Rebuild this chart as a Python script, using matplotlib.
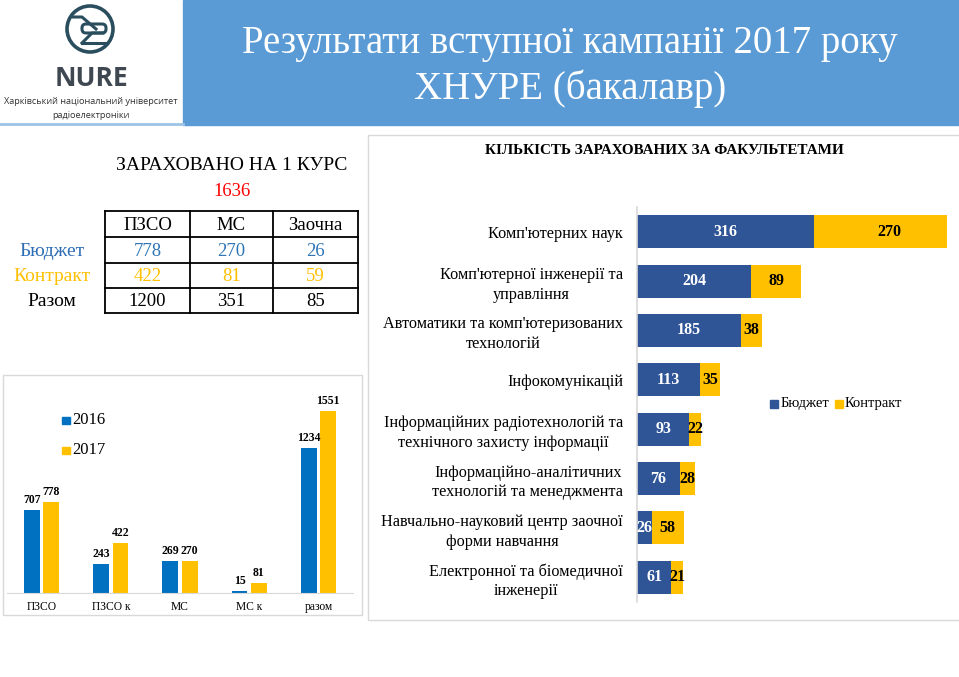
import matplotlib.pyplot as plt
from matplotlib.patches import Rectangle, Circle, FancyBboxPatch

# --- data ---
title_lines = ["Результати вступної кампанії 2017 року", "ХНУРЕ (бакалавр)"]

total_enrolled = 1636
table_cols = ["ПЗСО", "МС", "Заочна"]
table_rows = ["Бюджет", "Контракт", "Разом"]
budget_tbl = [778, 270, 26]
contract_tbl = [422, 81, 59]
total_tbl = [1200, 351, 85]

years_cats = ["ПЗСО", "ПЗСО к", "МС", "МС к", "разом"]
y2016 = [707, 243, 269, 15, 1234]
y2017 = [778, 422, 270, 81, 1551]

faculties = [
    "Комп'ютерних наук",
    "Комп'ютерної інженерії та\nуправління",
    "Автоматики та комп'ютеризованих\nтехнологій",
    "Інфокомунікацій",
    "Інформаційних радіотехнологій та\nтехнічного захисту інформації",
    "Інформаційно-аналітичних\nтехнологій та менеджмента",
    "Навчально-науковий центр заочної\nформи навчання",
    "Електронної та біомедичної\nінженерії",
]
fac_budget = [316, 204, 185, 113, 93, 76, 26, 61]
fac_contract = [270, 89, 38, 35, 22, 28, 58, 21]

SERIF = "Liberation Serif"
C_BLUE = "#0070C0"
C_DBLUE = "#2F5597"
C_YEL = "#FFC000"
C_GRID = "#D9D9D9"

W, H = 959, 677
fig = plt.figure(figsize=(W / 100, H / 100), dpi=100)
bg = fig.add_axes([0, 0, 1, 1])
bg.set_xlim(0, W)
bg.set_ylim(H, 0)
bg.axis("off")


def axes_px(l, t, r, b):
    return fig.add_axes([l / W, 1 - b / H, (r - l) / W, (b - t) / H])


# header
bg.add_patch(Rectangle((183, 0), W - 183, 125, color="#5B9BD5"))
bg.plot([0, 183], [123.5, 123.5], color="#9DC3E6", lw=2)
bg.text(570, 44, title_lines[0], ha="center", va="center", color="white",
        fontsize=28, family=SERIF)
bg.text(570, 89, title_lines[1], ha="center", va="center", color="white",
        fontsize=28, family=SERIF)

# logo
logo_c = "#2B4E5E"
bg.add_patch(Circle((90, 29), 23, fill=False, ec=logo_c, lw=2.6))
bg.add_patch(FancyBboxPatch((82, 24), 24, 9, boxstyle="round,pad=0,rounding_size=4",
                            fill=False, ec=logo_c, lw=2.2))
bg.plot([73, 82, 96], [17, 17, 29], color=logo_c, lw=2.2)
bg.plot([82, 92, 103], [43, 33, 33], color=logo_c, lw=2.2)
bg.plot([82, 105], [43, 43], color=logo_c, lw=2.2)
bg.text(91, 78, "NURE", ha="center", va="center", fontsize=19, fontweight="bold",
        color="#3F4750", family="Open Sans")
bg.text(91, 102, "Харківський національний університет", ha="center", va="center",
        fontsize=6.6, color="#333333", family="Open Sans")
bg.text(91, 115, "радіоелектроніки", ha="center", va="center",
        fontsize=6.6, color="#333333", family="Open Sans")

# table block
bg.text(232, 165, "ЗАРАХОВАНО НА 1 КУРС", ha="center", va="center",
        fontsize=14, family=SERIF)
bg.text(232, 191, str(total_enrolled), ha="center", va="center",
        fontsize=13.5, family=SERIF, color="red")
col_x = [105, 190, 273, 358]
row_y = [211, 237, 263, 288, 313]
for x in col_x:
    bg.plot([x, x], [row_y[0], row_y[-1]], color="black", lw=1.3)
for y in row_y:
    bg.plot([col_x[0], col_x[-1]], [y, y], color="black", lw=1.3)
row_colors = ["#2E6DB5", C_YEL, "black"]
num_colors = ["#2E75B6", C_YEL, "black"]
for j, name in enumerate(table_cols):
    bg.text((col_x[j] + col_x[j + 1]) / 2, (row_y[0] + row_y[1]) / 2 + 1, name,
            ha="center", va="center", fontsize=13.5, family=SERIF)
for i, (name, vals) in enumerate(zip(table_rows, [budget_tbl, contract_tbl, total_tbl])):
    yc = (row_y[i + 1] + row_y[i + 2]) / 2 + 1
    bg.text(52, yc, name, ha="center", va="center", fontsize=14, family=SERIF,
            color=row_colors[i])
    for j, v in enumerate(vals):
        bg.text((col_x[j] + col_x[j + 1]) / 2, yc, str(v), ha="center", va="center",
                fontsize=13.5, family=SERIF, color=num_colors[i])

# left chart
bg.add_patch(Rectangle((3, 375), 359, 240, fill=False, ec=C_GRID, lw=1))
ax1 = axes_px(7, 385, 353, 593)
ax1.patch.set_alpha(0)
xs = range(len(years_cats))
w = 0.23
b1 = ax1.bar([x - 0.14 for x in xs], y2016, width=w, color=C_BLUE)
b2 = ax1.bar([x + 0.14 for x in xs], y2017, width=w, color=C_YEL)
for bars, vals in [(b1, y2016), (b2, y2017)]:
    for r, v in zip(bars, vals):
        ax1.annotate(str(v), (r.get_x() + r.get_width() / 2, v), xytext=(0, 3),
                     textcoords="offset points", ha="center", va="bottom",
                     fontsize=8.5, fontweight="bold", family=SERIF)
ax1.set_xlim(-0.5, len(years_cats) - 0.5)
ax1.set_ylim(0, 1772)
ax1.set_xticks(list(xs))
ax1.set_xticklabels(years_cats, family=SERIF, fontsize=8.3)
ax1.tick_params(axis="x", length=0, pad=6)
ax1.set_yticks([])
for s in ["top", "left", "right"]:
    ax1.spines[s].set_visible(False)
ax1.spines["bottom"].set_color(C_GRID)
for k, (lab, col) in enumerate([("2016", C_BLUE), ("2017", C_YEL)]):
    yy = 420 + 30 * k
    bg.add_patch(Rectangle((62, yy - 3.5), 7.5, 7.5, color=col))
    bg.text(72, yy, lab, ha="left", va="center", fontsize=12, family=SERIF)

# right chart
bg.add_patch(Rectangle((368, 135), 600, 485, fill=False, ec=C_GRID, lw=1))
bg.text(664, 151, "КІЛЬКІСТЬ ЗАРАХОВАНИХ ЗА ФАКУЛЬТЕТАМИ", ha="center", va="center",
        fontsize=10.9, fontweight="bold", family=SERIF)
ax2 = axes_px(637, 207, 947, 602)
ax2.patch.set_alpha(0)
ys = list(range(len(faculties)))
ax2.barh(ys, fac_budget, height=0.67, color=C_DBLUE)
ax2.barh(ys, fac_contract, left=fac_budget, height=0.67, color=C_YEL)
for y, bv, cv in zip(ys, fac_budget, fac_contract):
    ax2.text(bv / 2, y, str(bv), ha="center", va="center", color="white",
             fontsize=11.5, fontweight="bold", family=SERIF)
    ax2.text(bv + cv / 2, y, str(cv), ha="center", va="center", color="black",
             fontsize=11.5, fontweight="bold", family=SERIF)
ax2.set_xlim(0, 553)
ax2.set_ylim(len(faculties) - 0.5, -0.5)
ax2.set_yticks(ys)
ax2.set_yticklabels(faculties, family=SERIF, fontsize=11.7, multialignment="center",
                    linespacing=1.3)
ax2.tick_params(axis="y", length=0, pad=10)
ax2.set_xticks([])
for s in ["top", "bottom", "right"]:
    ax2.spines[s].set_visible(False)
ax2.spines["left"].set_color(C_GRID)
ax2.spines["left"].set_linewidth(1.2)
bg.add_patch(Rectangle((770, 400), 7.5, 7.5, color=C_DBLUE))
bg.text(781, 404, "Бюджет", ha="left", va="center", fontsize=10.5, family=SERIF)
bg.add_patch(Rectangle((835, 400), 7.5, 7.5, color=C_YEL))
bg.text(845, 404, "Контракт", ha="left", va="center", fontsize=10.5, family=SERIF)

fig.savefig("out.png", dpi=100)
